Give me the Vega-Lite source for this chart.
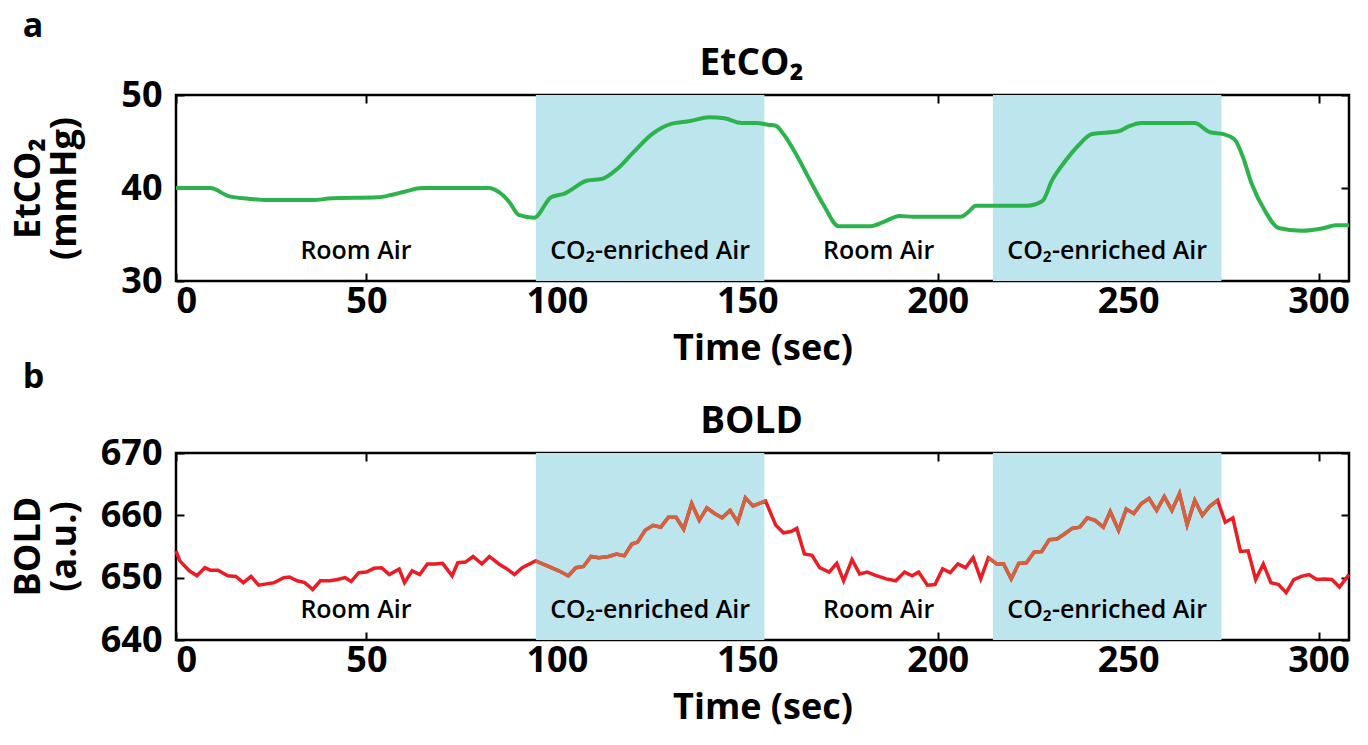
{
  "$schema": "https://vega.github.io/schema/vega-lite/v6.json",
  "background": "white",
  "padding": {"left": 8, "top": 9, "right": 5, "bottom": 5},
  "spacing": -8,
  "config": {
    "font": "Open Sans",
    "view": {"stroke": "black", "strokeWidth": 2.5},
    "axis": {
      "grid": false, "domain": false, "tickColor": "black", "tickWidth": 2, "tickSize": -8,
      "labelFont": "Open Sans", "labelFontWeight": "bold", "labelFontSize": 36, "labelColor": "black",
      "titleFont": "Open Sans", "titleFontSize": 36, "titleFontWeight": "bold", "titleColor": "black"
    },
    "title": {"font": "Open Sans", "fontSize": 34, "fontWeight": "bold", "color": "black"}
  },
  "datasets": {
    "phases": [
      {"start": 0, "end": 94.5, "mid": 47.25, "air": "Room", "label": "Room Air"},
      {"start": 94.5, "end": 154.5, "mid": 124.5, "air": "CO2", "label": "CO₂-enriched Air"},
      {"start": 154.5, "end": 214.5, "mid": 184.5, "air": "Room", "label": "Room Air"},
      {"start": 214.5, "end": 274.5, "mid": 244.5, "air": "CO2", "label": "CO₂-enriched Air"}
    ],
    "etco2": [
      {"t": 0, "v": 40.0}, {"t": 9, "v": 40.0}, {"t": 14, "v": 39.1}, {"t": 19, "v": 38.85}, {"t": 24, "v": 38.7},
      {"t": 36, "v": 38.7}, {"t": 41, "v": 38.9}, {"t": 53, "v": 39.0}, {"t": 56.5, "v": 39.25}, {"t": 60, "v": 39.6},
      {"t": 64.6, "v": 40.0}, {"t": 82, "v": 40.0}, {"t": 85, "v": 39.5}, {"t": 87.5, "v": 38.5}, {"t": 90, "v": 37.1},
      {"t": 94, "v": 36.8}, {"t": 98.5, "v": 39.0}, {"t": 102, "v": 39.4}, {"t": 108, "v": 40.8}, {"t": 112, "v": 41.0},
      {"t": 116, "v": 42.1}, {"t": 120, "v": 43.8}, {"t": 125, "v": 45.8}, {"t": 130, "v": 46.9}, {"t": 135, "v": 47.2},
      {"t": 140, "v": 47.6}, {"t": 144, "v": 47.5}, {"t": 148.5, "v": 47.0}, {"t": 152.5, "v": 47.0}, {"t": 155.5, "v": 46.8},
      {"t": 157.5, "v": 46.7}, {"t": 159.5, "v": 45.8}, {"t": 163, "v": 43.5}, {"t": 166.5, "v": 40.8}, {"t": 170, "v": 38.2},
      {"t": 174, "v": 35.9}, {"t": 182.5, "v": 35.9}, {"t": 185.5, "v": 36.3}, {"t": 190, "v": 37.0}, {"t": 193.5, "v": 36.9},
      {"t": 206, "v": 36.9}, {"t": 208, "v": 37.4}, {"t": 210, "v": 38.1}, {"t": 223.5, "v": 38.1}, {"t": 227.5, "v": 38.6},
      {"t": 230, "v": 40.8}, {"t": 233.5, "v": 42.9}, {"t": 237, "v": 44.6}, {"t": 240.5, "v": 45.8}, {"t": 247.5, "v": 46.1},
      {"t": 250, "v": 46.6}, {"t": 253.5, "v": 47.0}, {"t": 267.5, "v": 47.0}, {"t": 271.5, "v": 46.0}, {"t": 275, "v": 45.8},
      {"t": 278, "v": 45.2}, {"t": 280, "v": 43.5}, {"t": 282.5, "v": 40.4}, {"t": 286, "v": 37.5}, {"t": 289.5, "v": 35.7},
      {"t": 295.5, "v": 35.4}, {"t": 301.5, "v": 35.7}, {"t": 304.5, "v": 36.0}, {"t": 308, "v": 36.0}
    ],
    "bold": [
      {"t": 0, "v": 654.3}, {"t": 1, "v": 652.7}, {"t": 3.5, "v": 651.1}, {"t": 5.5, "v": 650.3}, {"t": 7.6, "v": 651.6},
      {"t": 9, "v": 651.2}, {"t": 11, "v": 651.2}, {"t": 13.6, "v": 650.3}, {"t": 15.7, "v": 650.2}, {"t": 17.7, "v": 649.2},
      {"t": 19.7, "v": 650.2}, {"t": 21.7, "v": 648.8}, {"t": 25.8, "v": 649.2}, {"t": 28.3, "v": 650.0}, {"t": 29.8, "v": 650.1},
      {"t": 31.8, "v": 649.5}, {"t": 33.8, "v": 649.2}, {"t": 35.9, "v": 648.1}, {"t": 37.9, "v": 649.5}, {"t": 40.4, "v": 649.5},
      {"t": 42.4, "v": 649.7}, {"t": 44.4, "v": 650.0}, {"t": 46, "v": 649.4}, {"t": 48, "v": 650.8}, {"t": 50, "v": 650.9},
      {"t": 52, "v": 651.5}, {"t": 54, "v": 651.6}, {"t": 56, "v": 650.5}, {"t": 58.6, "v": 651.4}, {"t": 60, "v": 649.2},
      {"t": 62, "v": 651.1}, {"t": 64, "v": 650.5}, {"t": 66, "v": 652.2}, {"t": 68, "v": 652.2}, {"t": 70, "v": 652.3},
      {"t": 72.5, "v": 650.3}, {"t": 74, "v": 652.4}, {"t": 76, "v": 652.5}, {"t": 78, "v": 653.4}, {"t": 80.3, "v": 652.2},
      {"t": 82.3, "v": 653.4}, {"t": 84.8, "v": 652.2}, {"t": 86.9, "v": 651.4}, {"t": 88.9, "v": 650.5}, {"t": 90.9, "v": 651.6},
      {"t": 94.4, "v": 652.7}, {"t": 97.5, "v": 651.9}, {"t": 100.5, "v": 651.1}, {"t": 103, "v": 650.3}, {"t": 105, "v": 651.6},
      {"t": 107, "v": 651.8}, {"t": 109, "v": 653.4}, {"t": 111, "v": 653.2}, {"t": 113.6, "v": 653.4}, {"t": 115.7, "v": 653.8},
      {"t": 117.7, "v": 653.5}, {"t": 119.7, "v": 655.4}, {"t": 121.2, "v": 655.7}, {"t": 123.2, "v": 657.6}, {"t": 125.3, "v": 658.4},
      {"t": 127.3, "v": 658.1}, {"t": 129.3, "v": 659.7}, {"t": 131.3, "v": 659.7}, {"t": 133.3, "v": 657.8}, {"t": 135.4, "v": 661.9},
      {"t": 137.4, "v": 659.2}, {"t": 139.4, "v": 661.2}, {"t": 141.4, "v": 660.3}, {"t": 143.4, "v": 659.6}, {"t": 145.5, "v": 660.8},
      {"t": 147.5, "v": 658.9}, {"t": 149.5, "v": 662.8}, {"t": 151.5, "v": 661.5}, {"t": 154.8, "v": 662.3}, {"t": 157.5, "v": 658.4},
      {"t": 159.5, "v": 657.2}, {"t": 161.5, "v": 657.4}, {"t": 163, "v": 657.9}, {"t": 165, "v": 653.8}, {"t": 167, "v": 653.6},
      {"t": 169, "v": 651.6}, {"t": 171.5, "v": 650.9}, {"t": 173.5, "v": 652.3}, {"t": 175.3, "v": 649.5}, {"t": 177.5, "v": 652.9},
      {"t": 179.5, "v": 650.6}, {"t": 181.5, "v": 650.9}, {"t": 183.5, "v": 650.4}, {"t": 186.5, "v": 649.8}, {"t": 189, "v": 649.5},
      {"t": 191.3, "v": 650.9}, {"t": 193.3, "v": 650.3}, {"t": 195, "v": 650.9}, {"t": 197.3, "v": 648.8}, {"t": 199.3, "v": 648.9},
      {"t": 201.3, "v": 651.4}, {"t": 203.3, "v": 650.8}, {"t": 205.3, "v": 652.2}, {"t": 207.3, "v": 651.6}, {"t": 209.3, "v": 653.2},
      {"t": 211.3, "v": 649.8}, {"t": 213.3, "v": 653.2}, {"t": 215.5, "v": 652.2}, {"t": 217.3, "v": 652.2}, {"t": 219.3, "v": 649.8},
      {"t": 221.3, "v": 652.3}, {"t": 223.3, "v": 652.4}, {"t": 225.3, "v": 654.1}, {"t": 227.3, "v": 654.2}, {"t": 229.3, "v": 656.1},
      {"t": 231.3, "v": 656.2}, {"t": 233.3, "v": 657.0}, {"t": 235.3, "v": 657.9}, {"t": 237.3, "v": 658.1}, {"t": 239.3, "v": 659.6},
      {"t": 241.3, "v": 659.2}, {"t": 243.5, "v": 658.1}, {"t": 245.3, "v": 660.6}, {"t": 247.5, "v": 657.6}, {"t": 249.5, "v": 661.0},
      {"t": 251.5, "v": 660.3}, {"t": 253.5, "v": 661.9}, {"t": 255.5, "v": 662.7}, {"t": 257.5, "v": 660.8}, {"t": 259.5, "v": 663.0},
      {"t": 261.5, "v": 660.8}, {"t": 263.5, "v": 663.5}, {"t": 265.5, "v": 658.5}, {"t": 267.5, "v": 662.4}, {"t": 269.5, "v": 660.0},
      {"t": 271.5, "v": 661.5}, {"t": 273.5, "v": 662.4}, {"t": 275.5, "v": 658.9}, {"t": 277.5, "v": 659.6}, {"t": 279.5, "v": 654.2},
      {"t": 281.5, "v": 654.3}, {"t": 283.5, "v": 649.7}, {"t": 285.5, "v": 652.2}, {"t": 287.5, "v": 649.2}, {"t": 289.5, "v": 648.9},
      {"t": 291.5, "v": 647.6}, {"t": 293.5, "v": 649.7}, {"t": 295.5, "v": 650.2}, {"t": 297.5, "v": 650.5}, {"t": 299.5, "v": 649.7},
      {"t": 301.5, "v": 649.8}, {"t": 303.5, "v": 649.7}, {"t": 305.5, "v": 648.5}, {"t": 308, "v": 650.5}
    ]
  },
  "vconcat": [
    {
      "title": {"text": "a", "anchor": "start", "fontSize": 34, "offset": 0, "dx": 14},
      "vconcat": [
        {
          "width": 1173, "height": 186,
          "title": {"text": "EtCO₂", "offset": -6, "fontSize": 37, "dx": -11},
          "resolve": {"axis": {"x": "independent", "y": "independent"}},
          "layer": [
            {
              "data": {"name": "phases"},
              "transform": [{"filter": "datum.air == 'CO2'"}],
              "mark": {"type": "rect", "color": "#bde5ee"},
              "encoding": {
                "x": {"field": "start", "type": "quantitative", "scale": {"domain": [0, 308], "nice": false, "zero": false},
                      "axis": {"orient": "bottom", "values": [0, 50, 100, 150, 200, 250, 300], "title": "Time (sec)", "labelPadding": 11, "titlePadding": 12}},
                "x2": {"field": "end"},
                "y": {"datum": 30, "type": "quantitative", "axis": null},
                "y2": {"datum": 50}
              }
            },
            {
              "data": {"name": "etco2"},
              "mark": {"type": "line", "color": "#2cb34c", "strokeWidth": 4, "interpolate": "monotone"},
              "encoding": {
                "x": {"field": "t", "type": "quantitative", "axis": {"orient": "top", "values": [0, 50, 100, 150, 200, 250, 300], "labels": false, "title": null}},
                "y": {"field": "v", "type": "quantitative", "scale": {"domain": [30, 50], "nice": false, "zero": false},
                      "axis": {"orient": "left", "values": [30, 40, 50], "title": ["EtCO₂", "(mmHg)"], "labelPadding": 22,
                               "titleX": -129, "titleY": 93, "titleLineHeight": 36}}
              }
            },
            {
              "data": {"name": "phases"},
              "mark": {"type": "text", "fontSize": 25, "fontWeight": 600, "color": "black", "baseline": "middle"},
              "encoding": {
                "x": {"field": "mid", "type": "quantitative", "axis": null},
                "y": {"datum": 33.2, "type": "quantitative", "axis": {"orient": "right", "values": [30, 40, 50], "labels": false, "title": null}},
                "text": {"field": "label"}
              }
            }
          ]
        }
      ]
    },
    {
      "title": {"text": "b", "anchor": "start", "fontSize": 34, "offset": 7, "dx": 14},
      "vconcat": [
        {
          "width": 1173, "height": 187,
          "title": {"text": "BOLD", "offset": -6, "fontSize": 37, "dx": -11},
          "resolve": {"axis": {"x": "independent", "y": "independent"}},
          "layer": [
            {
              "data": {"name": "phases"},
              "transform": [{"filter": "datum.air == 'CO2'"}],
              "mark": {"type": "rect", "color": "#bde5ee"},
              "encoding": {
                "x": {"field": "start", "type": "quantitative", "scale": {"domain": [0, 308], "nice": false, "zero": false},
                      "axis": {"orient": "bottom", "values": [0, 50, 100, 150, 200, 250, 300], "title": "Time (sec)", "labelPadding": 11, "titlePadding": 12}},
                "x2": {"field": "end"},
                "y": {"datum": 640, "type": "quantitative", "axis": null},
                "y2": {"datum": 670}
              }
            },
            {
              "data": {"name": "bold"},
              "mark": {"type": "line", "color": "#ec1c24", "strokeWidth": 3.5},
              "encoding": {
                "x": {"field": "t", "type": "quantitative", "axis": {"orient": "top", "values": [0, 50, 100, 150, 200, 250, 300], "labels": false, "title": null}},
                "y": {"field": "v", "type": "quantitative", "scale": {"domain": [640, 670], "nice": false, "zero": false},
                      "axis": {"orient": "left", "values": [640, 650, 660, 670], "title": ["BOLD", "(a.u.)"], "labelPadding": 22,
                               "titleX": -129, "titleY": 93, "titleLineHeight": 36}}
              }
            },
            {
              "data": {"name": "bold"},
              "transform": [{"filter": "datum.t >= 94 && datum.t <= 155"}],
              "mark": {"type": "line", "color": "#d0643f", "strokeWidth": 3.5},
              "encoding": {
                "x": {"field": "t", "type": "quantitative", "axis": null},
                "y": {"field": "v", "type": "quantitative", "axis": null}
              }
            },
            {
              "data": {"name": "bold"},
              "transform": [{"filter": "datum.t >= 213 && datum.t <= 274"}],
              "mark": {"type": "line", "color": "#d0643f", "strokeWidth": 3.5},
              "encoding": {
                "x": {"field": "t", "type": "quantitative", "axis": null},
                "y": {"field": "v", "type": "quantitative", "axis": null}
              }
            },
            {
              "data": {"name": "phases"},
              "mark": {"type": "text", "fontSize": 25, "fontWeight": 600, "color": "black", "baseline": "middle"},
              "encoding": {
                "x": {"field": "mid", "type": "quantitative", "axis": null},
                "y": {"datum": 644.8, "type": "quantitative", "axis": {"orient": "right", "values": [640, 650, 660, 670], "labels": false, "title": null}},
                "text": {"field": "label"}
              }
            }
          ]
        }
      ]
    }
  ]
}
